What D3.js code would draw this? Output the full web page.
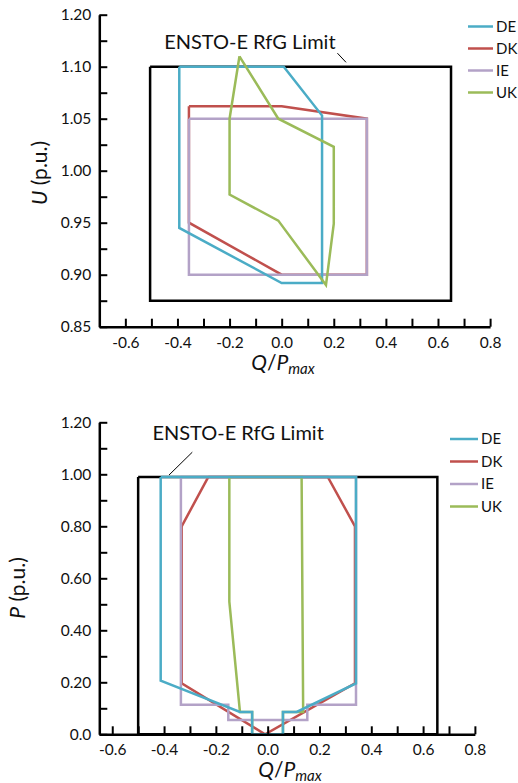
<!DOCTYPE html>
<html><head><meta charset="utf-8">
<script src="https://cdnjs.cloudflare.com/ajax/libs/d3/7.8.5/d3.min.js"></script>
<style>
html,body{margin:0;padding:0;background:#fff;}
svg{display:block;font-family:"Lato","Liberation Sans",sans-serif;}
</style></head>
<body>
<script>
// ---------- data ----------
const seriesNames = ["DE", "DK", "IE", "UK"];
const seriesColors = ["#4BACC6", "#C0504D", "#B3A2C7", "#9BBB59"];

// Top chart: U vs Q/Pmax
const uqLimitQ = [-0.505, 0.65, 0.65, -0.505, -0.505];
const uqLimitU = [1.10, 1.10, 0.875, 0.875, 1.10];
const uqDEq = [-0.393, 0.008, 0.155, 0.155, 0.0, -0.393, -0.393];
const uqDEu = [1.10, 1.10, 1.053, 0.892, 0.892, 0.945, 1.10];
const uqDKq = [-0.356, 0.0, 0.327, 0.327, 0.0, -0.356, -0.356];
const uqDKu = [1.062, 1.062, 1.05, 0.90, 0.90, 0.95, 1.062];
const uqIEq = [-0.356, 0.327, 0.327, -0.356, -0.356];
const uqIEu = [1.05, 1.05, 0.90, 0.90, 1.05];
const uqUKq = [-0.162, -0.013, 0.20, 0.20, 0.17, -0.013, -0.2, -0.2, -0.162];
const uqUKu = [1.11, 1.05, 1.023, 0.949, 0.89, 0.952, 0.977, 1.05, 1.11];
const uqYTicks = [0.85,0.875,0.90,0.925,0.95,0.975,1.00,1.025,1.05,1.075,1.10,1.125,1.15];
const uqYTickLabels = ["0.85","","0.90","","0.95","","1.00","","1.05","","1.10","","1.20"];
const uqXTicks = [-0.6,-0.5,-0.4,-0.3,-0.2,-0.1,0.0,0.1,0.2,0.3,0.4,0.5,0.6,0.7,0.8];
const uqXTickLabels = ["-0.6","","-0.4","","-0.2","","0.0","","0.2","","0.4","","0.6","","0.8"];

// Bottom chart: P vs Q/Pmax
const pqLimitQ = [-0.5, 0.655, 0.655, -0.5, -0.5];
const pqLimitP = [0.99, 0.99, 0, 0, 0.99];
const pqDEq = [-0.413, 0.341, 0.341, 0.112, 0.059, 0.059, -0.060, -0.060, -0.107, -0.413, -0.413];
const pqDEp = [0.99, 0.99, 0.196, 0.086, 0.086, 0, 0, 0.086, 0.086, 0.206, 0.99];
const pqDKq = [-0.229, 0.232, 0.337, 0.337, -0.01, -0.332, -0.332, -0.229];
const pqDKp = [0.99, 0.99, 0.80, 0.196, 0.0, 0.196, 0.80, 0.99];
const pqIEq = [-0.335, 0.341, 0.341, 0.153, 0.153, -0.152, -0.152, -0.335, -0.335];
const pqIEp = [0.99, 0.99, 0.114, 0.114, 0.055, 0.055, 0.114, 0.114, 0.99];
const pqUKq = [-0.148, 0.131, 0.137, 0.059, 0.059, -0.060, -0.060, -0.107, -0.148, -0.148];
const pqUKp = [0.99, 0.99, 0.086, 0.086, 0, 0, 0.086, 0.086, 0.51, 0.99];
const pqYTicks = [0,0.1,0.2,0.3,0.4,0.5,0.6,0.7,0.8,0.9,1.0,1.1,1.2];
const pqYTickLabels = ["0.0","","0.20","","0.40","","0.60","","0.80","","1.00","","1.20"];
const pqXTicks = [-0.6,-0.5,-0.4,-0.3,-0.2,-0.1,0.0,0.1,0.2,0.3,0.4,0.5,0.6,0.7,0.8];
const pqXTickLabels = ["-0.6","","-0.4","","-0.2","","0.0","","0.2","","0.4","","0.6","","0.8"];

const limitLabel = "ENSTO-E RfG Limit";

// ---------- drawing ----------
const W = 518, H = 783;
const svg = d3.select("body").append("svg").attr("width", W).attr("height", H);

function zip(a, b) { return a.map((v, i) => [v, b[i]]); }

function panel(cfg) {
  const x = d3.scaleLinear().domain(cfg.xDomain).range(cfg.xRange);
  const y = d3.scaleLinear().domain(cfg.yDomain).range(cfg.yRange);
  const g = svg.append("g");
  const line = d3.line().x(d => x(d[0])).y(d => y(d[1]));

  // limit rectangle
  g.append("path").datum(zip(cfg.limitQ, cfg.limitV))
    .attr("d", line).attr("fill", "none").attr("stroke", "#000")
    .attr("stroke-width", 2.5).attr("stroke-linejoin", "miter");

  // series
  cfg.order.forEach(i => {
    g.append("path").datum(zip(cfg.seriesQ[i], cfg.seriesV[i]))
      .attr("d", line).attr("fill", "none").attr("stroke", seriesColors[i])
      .attr("stroke-width", 2.5).attr("stroke-linejoin", "miter");
  });

  // axes
  const yAxis = d3.axisLeft(y).tickValues(cfg.yTicks).tickSize(-8).tickSizeOuter(0).tickPadding(8)
    .tickFormat((v, i) => cfg.yLabels[i]);
  const ya = g.append("g").attr("transform", `translate(${cfg.xRange[0]},0)`).call(yAxis);
  const xAxis = d3.axisBottom(x).tickValues(cfg.xTicks).tickSize(-8).tickSizeOuter(0).tickPadding(7)
    .tickFormat((v, i) => cfg.xLabels[i]);
  const xa = g.append("g").attr("transform", `translate(0,${cfg.yRange[0]})`).call(xAxis);
  [ya, xa].forEach(a => {
    a.select(".domain").attr("stroke", "#000").attr("stroke-width", 2.5);
    a.selectAll(".tick line").attr("stroke", "#000").attr("stroke-width", 2);
    a.selectAll(".tick text").attr("fill", "#111").style("font-size", "15.5px")
      .style("font-family", "Lato, 'Liberation Sans', sans-serif");
  });
  xa.selectAll(".tick text").attr("dy", "0.9em");

  // annotation
  g.append("text").attr("x", x(cfg.annX)).attr("y", y(cfg.annY))
    .attr("text-anchor", "middle").style("font-size", "20px").attr("fill", "#111")
    .text(limitLabel);
  g.append("line")
    .attr("x1", x(cfg.leader[0])).attr("y1", y(cfg.leader[1]))
    .attr("x2", x(cfg.leader[2])).attr("y2", y(cfg.leader[3]))
    .attr("stroke", "#000").attr("stroke-width", 1);

  // axis titles
  const yt = g.append("text")
    .attr("transform", `translate(${cfg.yTitlePos[0]},${cfg.yTitlePos[1]}) rotate(-90)`)
    .attr("text-anchor", "middle").style("font-size", "21px").attr("fill", "#111");
  yt.append("tspan").style("font-style", "italic").text(cfg.yVar);
  yt.append("tspan").text(" (p.u.)");

  const xt = g.append("text").attr("x", cfg.xTitlePos[0]).attr("y", cfg.xTitlePos[1])
    .attr("text-anchor", "middle").style("font-size", "21px").attr("fill", "#111");
  xt.append("tspan").style("font-style", "italic").text("Q");
  xt.append("tspan").text("/");
  xt.append("tspan").style("font-style", "italic").text("P");
  xt.append("tspan").style("font-style", "italic").style("font-size", "15px").attr("dy", 4).text("max");

  // legend
  const lg = g.append("g");
  seriesNames.forEach((n, i) => {
    const ly = cfg.legendY + i * cfg.legendStep;
    lg.append("line").attr("x1", cfg.legendX).attr("x2", cfg.legendX + cfg.legendLen)
      .attr("y1", ly).attr("y2", ly).attr("stroke", seriesColors[i]).attr("stroke-width", 2.5);
    lg.append("text").attr("x", cfg.legendX + cfg.legendLen + 3).attr("y", ly).attr("dy", "0.36em")
      .style("font-size", "15px").attr("fill", "#111").text(n);
  });
}

panel({
  xDomain: [-0.7, 0.8], xRange: [99.3, 490.1],
  yDomain: [0.85, 1.15], yRange: [326.7, 14.7],
  limitQ: uqLimitQ, limitV: uqLimitU,
  seriesQ: [uqDEq, uqDKq, uqIEq, uqUKq], seriesV: [uqDEu, uqDKu, uqIEu, uqUKu],
  order: [1, 2, 0, 3],
  yTicks: uqYTicks, yLabels: uqYTickLabels,
  xTicks: uqXTicks, xLabels: uqXTickLabels,
  annX: -0.122, annY: 1.1175, leader: [0.214, 1.113, 0.247, 1.1042],
  yTitlePos: [47, 173], yVar: "U",
  xTitlePos: [283, 370],
  legendX: 468, legendLen: 25, legendY: 26.5, legendStep: 22
});

panel({
  xDomain: [-0.65, 0.8], xRange: [99.3, 474.9],
  yDomain: [0, 1.2], yRange: [734.3, 422.3],
  limitQ: pqLimitQ, limitV: pqLimitP,
  seriesQ: [pqDEq, pqDKq, pqIEq, pqUKq], seriesV: [pqDEp, pqDKp, pqIEp, pqUKp],
  order: [1, 2, 3, 0],
  yTicks: pqYTicks, yLabels: pqYTickLabels,
  xTicks: pqXTicks, xLabels: pqXTickLabels,
  annX: -0.114, annY: 1.132, leader: [-0.291, 1.085, -0.381, 0.997],
  yTitlePos: [25, 588], yVar: "P",
  xTitlePos: [290, 777],
  legendX: 450, legendLen: 28, legendY: 439, legendStep: 22.5
});
</script>
</body></html>
